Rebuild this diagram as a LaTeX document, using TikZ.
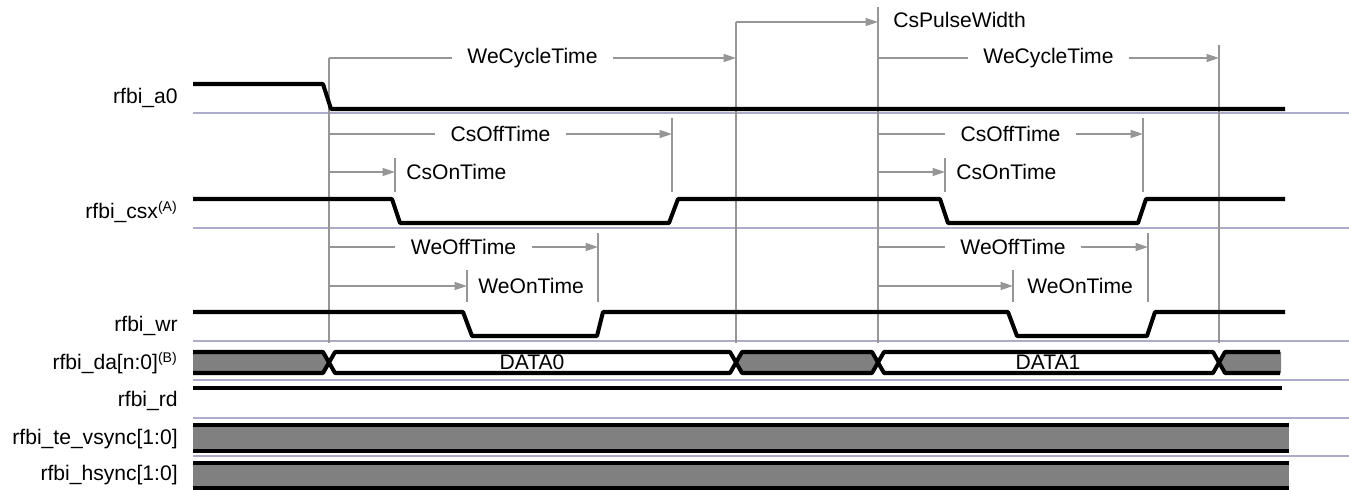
\documentclass[tikz,border=0pt]{standalone}
\usepackage{fontspec}
\setmainfont{Liberation Sans}
\usetikzlibrary{arrows.meta}

\definecolor{dimgray}{RGB}{150,150,150}
\definecolor{basecol}{RGB}{172,172,200}
\definecolor{busgray}{RGB}{128,128,128}

\begin{document}
\begin{tikzpicture}[x=0.02cm,y=-0.02cm,
    font=\fontsize{12}{14}\selectfont,
    sig/.style={line width=2.3pt,line join=round},
    base/.style={basecol,line width=0.8pt},
    guide/.style={dimgray,line width=0.9pt},
    dim/.style={guide,-{Triangle[length=7pt,width=4.5pt]}},
    lbl/.style={anchor=east,inner sep=0pt},
    gaptext/.style={fill=white,text=black,inner xsep=9pt,inner ysep=1pt},
    ontext/.style={anchor=west,inner sep=0pt}]
  \useasboundingbox (0,0) rectangle (1349,490);
  \def\T{352}
  \def\B{373}
  \def\M{362.5}

  % cycle marks
  \coordinate (c0) at (329,58);
  \coordinate (c1) at (736,58);
  \coordinate (c2) at (878,58);
  \coordinate (c3) at (1219,58);

  % signal names
  \node[lbl] (la0)  at (178,98)  {rfbi\_a0};
  \node[lbl] (lcsx) at (178,212) {rfbi\_csx\textsuperscript{(A)}};
  \node[lbl] (lwr)  at (178,326) {rfbi\_wr};
  \node[lbl] (lda)  at (178,363) {rfbi\_da[n:0]\textsuperscript{(B)}};
  \node[lbl] (lrd)  at (178,401) {rfbi\_rd};
  \node[lbl] (lvs)  at (178,439) {rfbi\_te\_vsync[1:0]};
  \node[lbl] (lhs)  at (178,475) {rfbi\_hsync[1:0]};

  % base lines
  \foreach \y in {113,228,341,380,418,456}
    \draw[base] (193,\y) -- (1349,\y);

  % vertical guides
  \draw[guide] (329,58) -- (329,343);
  \draw[guide] (736,22) -- (736,343);
  \draw[guide] (878,7) -- (878,343);
  \draw[guide] (1219,45) -- (1219,343);

  % cycle times
  \draw[dim] (c0) -- node[gaptext] (wct1) {WeCycleTime} (c1);
  \draw[dim] (c2) -- node[gaptext] (wct2) {WeCycleTime} (c3);
  \coordinate (p0) at (736,22);
  \coordinate (p1) at (878,22);
  \draw[dim] (p0) -- (p1);
  \node[ontext] (cpw) at (893,20) {CsPulseWidth};

  % first cycle
  \coordinate (cs1) at (329,134);
  \coordinate (ce1) at (672,134);
  \draw[guide] (672,118) -- (672,192);
  \draw[dim] (cs1) -- node[gaptext] (coff1) {CsOffTime} (ce1);
  \coordinate (ns1) at (329,172);
  \coordinate (ne1) at (395,172);
  \draw[guide] (395,158) -- (395,192);
  \draw[dim] (ns1) -- (ne1);
  \node[ontext] (con1) at (406,172) {CsOnTime};
  \coordinate (ws1) at (329,247);
  \coordinate (we1) at (598,247);
  \draw[guide] (598,233) -- (598,302);
  \draw[dim] (ws1) -- node[gaptext] (woff1) {WeOffTime} (we1);
  \coordinate (os1) at (329,286);
  \coordinate (oe1) at (467,286);
  \draw[guide] (467,270) -- (467,302);
  \draw[dim] (os1) -- (oe1);
  \node[ontext] (won1) at (478,286) {WeOnTime};

  % second cycle
  \coordinate (cs2) at (878,134);
  \coordinate (ce2) at (1143,134);
  \draw[guide] (1143,118) -- (1143,192);
  \draw[dim] (cs2) -- node[gaptext] (coff2) {CsOffTime} (ce2);
  \coordinate (ns2) at (878,172);
  \coordinate (ne2) at (945,172);
  \draw[guide] (945,158) -- (945,192);
  \draw[dim] (ns2) -- (ne2);
  \node[ontext] (con2) at (956,172) {CsOnTime};
  \coordinate (ws2) at (878,247);
  \coordinate (we2) at (1148,247);
  \draw[guide] (1148,233) -- (1148,302);
  \draw[dim] (ws2) -- node[gaptext] (woff2) {WeOffTime} (we2);
  \coordinate (os2) at (878,286);
  \coordinate (oe2) at (1013,286);
  \draw[guide] (1013,270) -- (1013,302);
  \draw[dim] (os2) -- (oe2);
  \node[ontext] (won2) at (1027,286) {WeOnTime};

  % waveforms
  \draw[sig] (193,84) -- (323,84) -- (331,109) -- (1285,109);
  \draw[sig] (193,199) -- (392,199) -- (400,223) -- (669,223) -- (678,199)
    -- (940,199) -- (948,223) -- (1138,223) -- (1146,199) -- (1285,199);
  \draw[sig] (193,312) -- (463,312) -- (472,336) -- (597,336) -- (603,312)
    -- (1008,312) -- (1017,336) -- (1147,336) -- (1155,312) -- (1285,312);

  % data bus
  \fill[busgray] (193,\T) -- (323,\T) -- (329,\M) -- (323,\B) -- (193,\B) -- cycle;
  \fill[busgray] (736,\M) -- (742,\T) -- (872,\T) -- (878,\M) -- (872,\B) -- (742,\B) -- cycle;
  \fill[busgray] (1219,\M) -- (1225,\T) -- (1281,\T) -- (1281,\B) -- (1225,\B) -- cycle;
  \draw[sig] (193,\T) -- (323,\T) -- (335,\B) -- (730,\B) -- (742,\T) -- (872,\T)
    -- (884,\B) -- (1213,\B) -- (1225,\T) -- (1280,\T);
  \draw[sig] (193,\B) -- (323,\B) -- (335,\T) -- (730,\T) -- (742,\B) -- (872,\B)
    -- (884,\T) -- (1213,\T) -- (1225,\B) -- (1280,\B);
  \node (d0) at (532,\M) {DATA0};
  \node (d1) at (1048,\M) {DATA1};

  % rd
  \draw[sig] (193,388) -- (1282,388);

  % sync buses
  \fill[busgray] (193,425) rectangle (1289,451);
  \draw[sig] (193,425) -- (1289,425);
  \draw[sig] (193,451) -- (1289,451);
  \fill[busgray] (193,463) rectangle (1289,488);
  \draw[sig] (193,463) -- (1289,463);
  \draw[sig] (193,488) -- (1289,488);
\end{tikzpicture}
\end{document}
